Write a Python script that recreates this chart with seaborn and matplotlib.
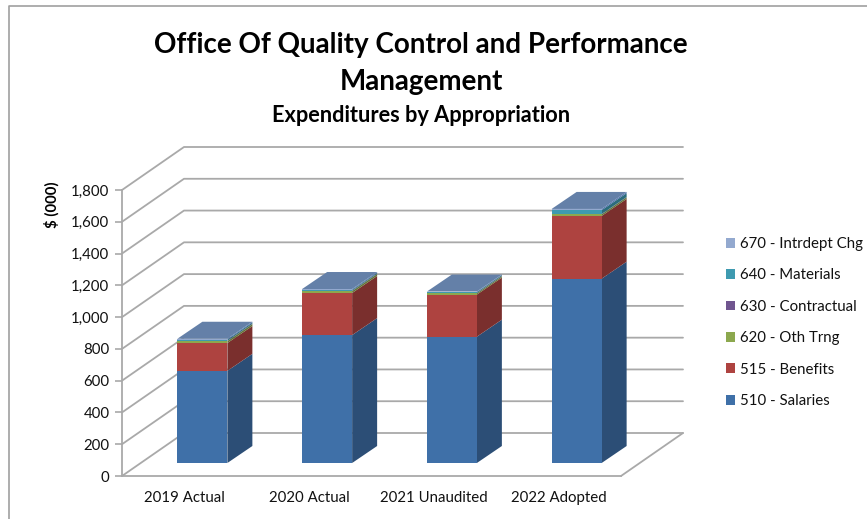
import colorsys
import matplotlib
matplotlib.use('Agg')
import matplotlib.pyplot as plt
import matplotlib.colors as mcolors
from matplotlib.patches import Polygon
import numpy as np
import pandas as pd
import seaborn as sns

categories = ['2019 Actual', '2020 Actual', '2021 Unaudited', '2022 Adopted']
salaries = [580, 805, 795, 1160]
benefits = [175, 265, 265, 395]
oth_trng = [12, 12, 8, 10]
contractual = [2, 2, 2, 2]
materials = [8, 6, 6, 24]
intrdept = [5, 5, 3, 8]
y_ticks = [0, 200, 400, 600, 800, 1000, 1200, 1400, 1600, 1800]

series = [
    ('510 - Salaries', salaries, '#3F70A8'),
    ('515 - Benefits', benefits, '#AE4340'),
    ('620 - Oth Trng', oth_trng, '#8CA84E'),
    ('630 - Contractual', contractual, '#70558F'),
    ('640 - Materials', materials, '#3E9AB0'),
    ('670 - Intrdept Chg', intrdept, '#93A9CF'),
]

sns.set_theme(style='white')
plt.rcParams['font.family'] = ['Lato', 'DejaVu Sans']

W, H = 867, 519
fig = plt.figure(figsize=(W / 100, H / 100), dpi=100, facecolor='white')
ax = fig.add_axes([122 / W, 1 - 476 / H, 499 / W, 286 / H])

# pseudo-3D depth, in data units
px_x = 4 / 499
px_y = 1800 / 286
wall_dx, wall_dy = 62 * px_x, 43 * px_y
bar_dx, bar_dy = 25 * px_x, 17 * px_y
lift_dx, lift_dy = 18 * px_x, 13 * px_y
bar_width = 50 * px_x

GRID = '#A9A9A9'


def shade(color, f):
    r, g, b = mcolors.to_rgb(color)
    h, l, s = colorsys.rgb_to_hls(r, g, b)
    return colorsys.hls_to_rgb(h, l * f, s)


df = pd.DataFrame({'cat': categories})
base = np.zeros(len(categories))
segments = []
for name, vals, color in series:
    sns.barplot(data=df.assign(v=vals), x='cat', y='v', color=color, width=bar_width,
                bottom=base + lift_dy, saturation=1, label=name, ax=ax, zorder=5)
    segments.append((base.copy(), base + np.array(vals), color))
    base = base + np.array(vals)

for p in ax.patches:
    p.set_x(p.get_x() + lift_dx)
    p.set_linewidth(0)
    p.set_clip_on(False)

ax.set_xlim(-0.5, 3.5)
ax.set_ylim(0, 1800)

# walls and floor
left, right = -0.5, 3.5
for v in y_ticks:
    ax.plot([left, left + wall_dx, right + wall_dx], [v, v + wall_dy, v + wall_dy],
            color=GRID, lw=1.3, clip_on=False, zorder=1)
ax.plot([right, right + wall_dx], [0, wall_dy], color=GRID, lw=1.3, clip_on=False, zorder=1)

# side and top faces of the bars
for i in range(len(categories)):
    xr = i + lift_dx + bar_width / 2
    for lo, hi, color in segments:
        pts = [(xr, lo[i] + lift_dy), (xr + bar_dx, lo[i] + lift_dy + bar_dy),
               (xr + bar_dx, hi[i] + lift_dy + bar_dy), (xr, hi[i] + lift_dy)]
        ax.add_patch(Polygon(pts, closed=True, fc=shade(color, 0.7), ec='none',
                             clip_on=False, zorder=4))
    top = base[i] + lift_dy
    xl = xr - bar_width
    ax.add_patch(Polygon([(xl, top), (xr, top), (xr + bar_dx, top + bar_dy), (xl + bar_dx, top + bar_dy)],
                         closed=True, fc='#6480A8', ec='none', clip_on=False, zorder=6))

for s in ['top', 'right']:
    ax.spines[s].set_visible(False)
for s in ['left', 'bottom']:
    ax.spines[s].set_color(GRID)
    ax.spines[s].set_linewidth(1.3)

ax.set_yticks(y_ticks)
ax.set_yticklabels([f'{v:,}' for v in y_ticks], fontsize=10.8, color='#111111')
ax.set_xticks(range(len(categories)))
ax.set_xticklabels(categories, fontsize=10.8, color='#111111')
ax.set_xticks([-0.5, 0.5, 1.5, 2.5, 3.5], minor=True)
ax.tick_params(axis='x', which='major', length=0, pad=11)
ax.tick_params(axis='x', which='minor', length=5, width=1.2, color=GRID)
ax.tick_params(axis='y', length=5, width=1.2, color=GRID, pad=4, left=True)
ax.set_xlabel('')
ax.set_ylabel('')
fig.text(52 / W, 1 - 205 / H, '$ (000)', rotation=90, ha='center', va='center',
         fontsize=10.8, fontweight='bold', color='black')

# titles
fig.text(421 / W, 1 - 45 / H, 'Office Of Quality Control and Performance', ha='center', va='center',
         fontsize=20, fontweight='bold', color='black')
fig.text(421 / W, 1 - 82 / H, 'Management', ha='center', va='center',
         fontsize=20, fontweight='bold', color='black')
fig.text(421 / W, 1 - 115 / H, 'Expenditures by Appropriation', ha='center', va='center',
         fontsize=15.7, fontweight='bold', color='black')

handles, labels = ax.get_legend_handles_labels()
ax.get_legend().remove()
fig.legend(handles[::-1], labels[::-1], loc='center left', bbox_to_anchor=(726 / W, 1 - 322.5 / H),
           frameon=False, fontsize=10.8, handlelength=0.63, handleheight=0.63, handletextpad=0.27,
           labelspacing=1.16, borderpad=0, borderaxespad=0, labelcolor='#111111')

# chart frame, cut by the image edge
fig.add_artist(plt.Line2D([9 / W, 9 / W, 1], [0, 1 - 6 / H, 1 - 6 / H], color='#A0A0A0', lw=1.2))

fig.savefig('out.png', dpi=100, facecolor='white')
